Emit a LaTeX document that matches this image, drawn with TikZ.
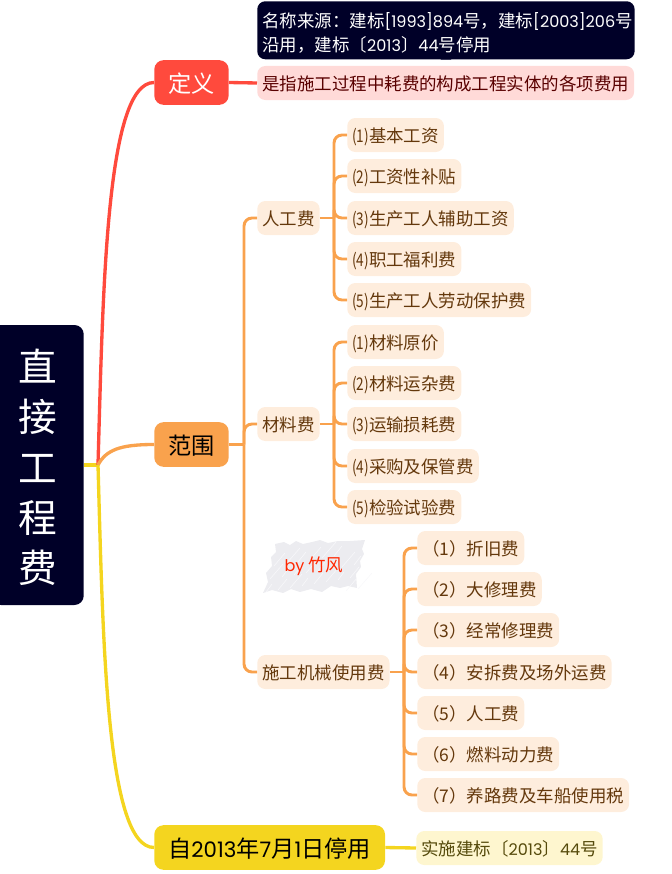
\documentclass[tikz,border=0pt]{standalone}
\usepackage{fontspec}
\setmainfont{Noto Sans CJK SC}
\newfontfamily\latfont[Scale=0.92]{Poppins}
\newcommand{\itemno}[1]{\scalebox{0.78}[1]{#1}}
\definecolor{navy}{RGB}{0,0,40}
\definecolor{redline}{RGB}{255,74,61}
\definecolor{orangeline}{RGB}{249,162,77}
\definecolor{yellowline}{RGB}{244,213,31}
\definecolor{redsoft}{RGB}{255,218,216}
\definecolor{orangesoft}{RGB}{254,237,221}
\definecolor{yellowsoft}{RGB}{254,246,207}
\definecolor{orangetext}{RGB}{100,56,12}
\definecolor{scribble}{RGB}{236,236,240}
\tikzset{
  topic/.style={anchor=west,rounded corners=6pt,inner xsep=3.75pt,inner ysep=0pt,minimum height=25.5pt,text depth=0pt,font=\fontsize{13.1}{16}\selectfont},
  leaf/.style={topic,fill=orangesoft,text=orangetext},
  branch/.style={anchor=west,rounded corners=7pt,inner xsep=10.5pt,inner ysep=0pt,minimum height=33.5pt,text depth=0pt,font=\fontsize{17.4}{20}\selectfont},
  curve/.style={line width=2.5pt},
  wire/.style={line width=2.2pt,orangeline,rounded corners=6pt},
}
\begin{document}
\begin{tikzpicture}[x=0.75pt,y=0.75pt,yscale=-1,xscale=1]
    \useasboundingbox (0,0) rectangle (671,874);

    % Scribble behind the signature
    \fill[scribble] (275,544) -- (284,542) -- (290,545) -- (296,541) -- (303,544) -- (312,542) -- (320,540) -- (328,543) -- (338,541) -- (350,541) -- (365,540) -- (362,549) -- (364,554) -- (360,561) -- (361,567) -- (356,574) -- (357,588) -- (348,586) -- (340,588) -- (331,586) -- (322,592) -- (311,589) -- (300,592) -- (291,589) -- (283,593) -- (272,590) -- (263,593) -- (268,582) -- (266,573) -- (272,566) -- (271,557) -- (276,552) -- cycle;
    \foreach \i in {0,...,23}
      \draw[white!65!scribble,line width=0.45pt] ({266+\i*4},{592-mod(\i*13,37)}) -- ++({6+mod(\i*7,9)},{-8-mod(\i*7,9)});

    % Root and main topics
    \node[anchor=east,fill=navy,text=white,rounded corners=7pt,minimum width=69pt,minimum height=210pt,align=center,inner sep=0pt,font=\fontsize{29}{37.7}\selectfont] (root) at (84,465) {\rule{0pt}{28pt}直\\接\\工\\程\\费};
    \coordinate (hub) at (98,465);
    \node[branch,fill=redline,text=white] (defn) at (154,82.5) {定义};
    \node[branch,fill=orangeline,text=black] (range) at (154,444.5) {范围};
    \node[branch,fill=yellowline,text=black] (stop) at (154,847.5) {自{\latfont 2013}年{\latfont 7}月{\latfont 1}日停用};

    % Definition and its note
    \node[topic,fill=redsoft,text=red!35!black] (meaning) at (257,83) {是指施工过程中耗费的构成工程实体的各项费用};
    \node[anchor=north west,fill=navy,text=white,rounded corners=6pt,inner xsep=3.75pt,inner ysep=1.5pt,minimum height=43.5pt,text width=275.5pt,align=left,font=\fontsize{13.1}{18}\selectfont] (note) at (257,1)
      {\rule{0pt}{15pt}名称来源：建标{\latfont[1993]894}号，建标{\latfont[2003]206}号\\沿用，建标〔{\latfont 2013}〕{\latfont 44}号停用};
    \fill[navy] ([xshift=-4pt]note.south) -- ([xshift=4pt]note.south) -- ([yshift=-4.5pt]note.south) -- cycle;

    % Second level
    \node[leaf] (labor) at (257,218) {人工费};
    \node[leaf] (material) at (257,424) {材料费};
    \node[leaf] (machine) at (257,672) {施工机械使用费};
    \coordinate (laborfork) at (334,218);
    \coordinate (materialfork) at (334,424);
    \coordinate (machinefork) at (404,672);
    \coordinate (rangefork) at (244,444.5);

    % Labor
    \node[leaf] (labor1) at (347,135) {\itemno{(1)}基本工资};
    \node[leaf] (labor2) at (347,176) {\itemno{(2)}工资性补贴};
    \node[leaf] (labor3) at (347,218) {\itemno{(3)}生产工人辅助工资};
    \node[leaf] (labor4) at (347,259) {\itemno{(4)}职工福利费};
    \node[leaf] (labor5) at (347,300) {\itemno{(5)}生产工人劳动保护费};

    % Material
    \node[leaf] (material1) at (347,342) {\itemno{(1)}材料原价};
    \node[leaf] (material2) at (347,383) {\itemno{(2)}材料运杂费};
    \node[leaf] (material3) at (347,424) {\itemno{(3)}运输损耗费};
    \node[leaf] (material4) at (347,466) {\itemno{(4)}采购及保管费};
    \node[leaf] (material5) at (347,507) {\itemno{(5)}检验试验费};

    % Machine
    \node[leaf] (machine1) at (417,548) {（1）折旧费};
    \node[leaf] (machine2) at (417,589) {（2）大修理费};
    \node[leaf] (machine3) at (417,630) {（3）经常修理费};
    \node[leaf] (machine4) at (417,672) {（4）安拆费及场外运费};
    \node[leaf] (machine5) at (417,713) {（5）人工费};
    \node[leaf] (machine6) at (417,754) {（6）燃料动力费};
    \node[leaf] (machine7) at (417,795) {（7）养路费及车船使用税};

    % Stop note
    \node[topic,fill=yellowsoft,text=yellowline!35!black] (since) at (416,848) {实施建标〔{\latfont 2013}〕{\latfont 44}号};

    % Signature
    \node[text=red!70!orange,font=\fontsize{13.1}{16}\selectfont] (sign) at (314,566.5) {{\latfont by} 竹风};

    % Connectors
    \draw[curve,yellowline] (root.east) -- (hub);
    \draw[curve,redline] (hub) .. controls (103,290) and (106,82.5) .. (defn.west);
    \draw[curve,orangeline] (hub) .. controls (106,450) and (120,444.5) .. (range.west);
    \draw[curve,yellowline] (hub) .. controls (103,640) and (106,847.5) .. (stop.west);
    \draw[curve,redline] (defn.east) -- (meaning.west);
    \draw[curve,yellowline] (stop.east) -- (since.west);
    \draw[wire] (range.east) -- (rangefork);
    \draw[wire] (labor.east) -- (laborfork);
    \draw[wire] (material.east) -- (materialfork);
    \draw[wire] (machine.east) -- (machinefork);
    \foreach \name in {labor,material,machine}
      \draw[wire] (rangefork) |- (\name.west);
    \foreach \i in {1,...,5}
      \draw[wire] (laborfork) |- (labor\i.west);
    \foreach \i in {1,...,5}
      \draw[wire] (materialfork) |- (material\i.west);
    \foreach \i in {1,...,7}
      \draw[wire] (machinefork) |- (machine\i.west);
\end{tikzpicture}
\end{document}
